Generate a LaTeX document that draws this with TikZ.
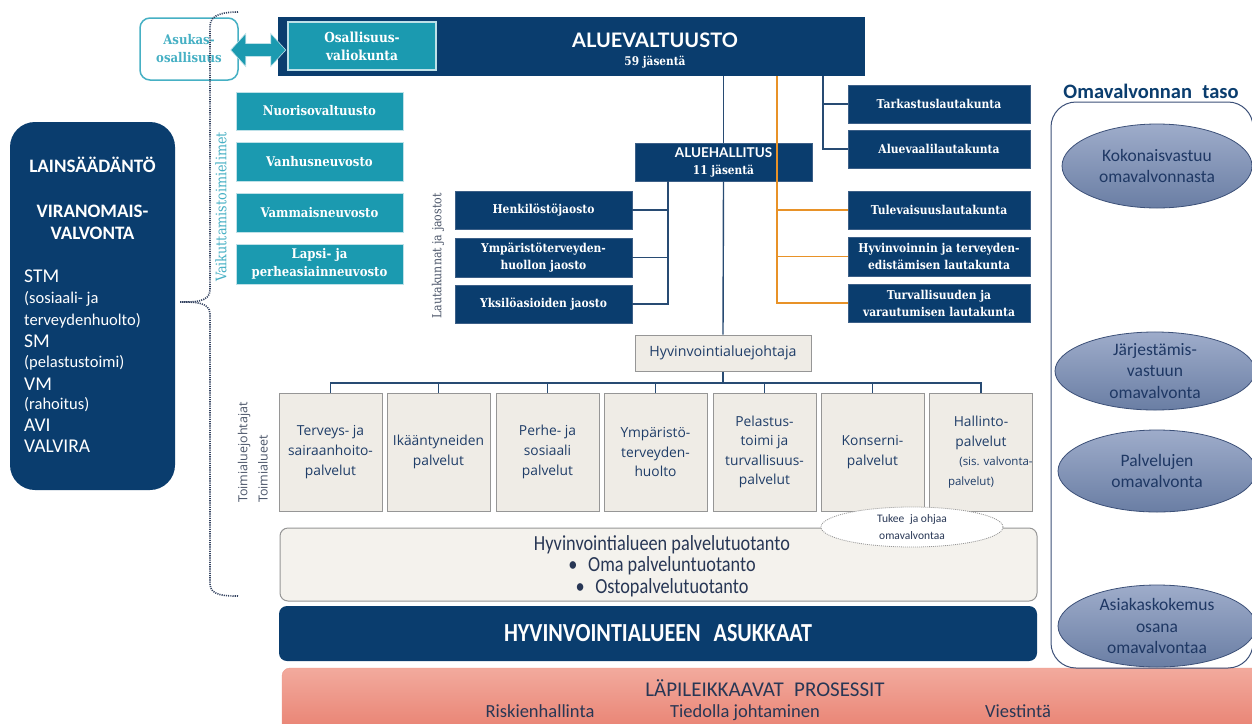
\documentclass[tikz,border=0pt]{standalone}
\usepackage{fontspec}
\setmainfont{Carlito}
\newfontfamily\slab{DejaVu Serif}[FakeStretch=0.88]
\newfontfamily\gsans{Open Sans}
\newfontfamily\titlef{Lato}
\newfontfamily\cond{Carlito}[FakeStretch=0.85]
\usetikzlibrary{shapes.geometric,calc}
\definecolor{cnavy}{RGB}{10,61,110}
\definecolor{cnavyb}{RGB}{60,95,135}
\definecolor{cteal}{RGB}{27,154,176}
\definecolor{ctealb}{RGB}{190,225,232}
\definecolor{ctealtxt}{RGB}{70,176,196}
\definecolor{corange}{RGB}{232,146,40}
\definecolor{cline}{RGB}{40,75,115}
\definecolor{cbeige}{RGB}{239,236,230}
\definecolor{cgrey}{RGB}{150,150,150}
\definecolor{ctext}{RGB}{31,61,104}
\definecolor{cptext}{RGB}{40,55,85}
\definecolor{csalt}{RGB}{242,170,157}
\definecolor{csalb}{RGB}{232,126,110}
\definecolor{celt}{RGB}{158,172,202}
\definecolor{celb}{RGB}{106,126,164}
\definecolor{celd}{RGB}{60,80,120}
\definecolor{celtxt}{RGB}{31,56,100}
\definecolor{cdot}{RGB}{50,65,95}
\definecolor{clab}{RGB}{75,85,105}
\begin{document}
\begin{tikzpicture}[x=1pt,y=-1pt,
  darkbox/.style={fill=cnavy, draw=cnavyb, line width=0.6pt, text=white, align=center, inner sep=0pt,
    font=\slab\bfseries\fontsize{12.2}{17}\selectfont},
  tealbox/.style={fill=cteal, draw=ctealb, line width=0.8pt, text=white, align=center, inner sep=0pt,
    minimum width=167, font=\slab\bfseries\fontsize{13.3}{18}\selectfont},
  svcbox/.style={fill=cbeige, draw=cgrey, line width=1pt, text=ctext, align=center, inner sep=0pt,
    minimum width=103, minimum height=118, font=\gsans\fontsize{13.8}{19.6}\selectfont},
  conn/.style={draw=cline, line width=1.4pt},
  oconn/.style={draw=corange, line width=1.4pt},
  dotline/.style={draw=cdot, line width=1.6pt, dash pattern=on 1.1pt off 1.1pt},
  oval/.style={ellipse, top color=celt, bottom color=celb, draw=celd, line width=0.8pt, inner sep=0pt,
    text=celtxt, align=center, font=\fontsize{17.5}{21.5}\selectfont},
  vlab/.style={rotate=90, inner sep=0pt},
  lawbig/.style={text=white, inner sep=0, anchor=base west, font=\fontsize{19.5}{22}\selectfont},
  lawsmall/.style={text=white, inner sep=0, anchor=base west, font=\fontsize{16.5}{20}\selectfont},
  proc/.style={text=cptext, font=\fontsize{18.5}{20}\selectfont, inner sep=0, anchor=base}
]
\useasboundingbox (0,0) rectangle (1252,723);
\fill[white] (0,0) rectangle (1252,723);

% left legislation box
\node[fill=cnavy, rounded corners=25pt, minimum width=165, minimum height=368, inner sep=0] (law) at (92.5,306) {};
\node[text=white, font=\bfseries\fontsize{19}{22}\selectfont, inner sep=0] (lawa) at (92.5,165) {LAINSÄÄDÄNTÖ};
\node[text=white, font=\bfseries\fontsize{19}{22}\selectfont, align=center, inner sep=0] (lawb) at (92.5,222) {VIRANOMAIS-\\VALVONTA};
\node[lawbig] (l1) at (24,282) {STM};
\node[lawsmall] (l2) at (24,303) {(sosiaali- ja};
\node[lawsmall] (l3) at (24,325) {terveydenhuolto)};
\node[lawbig] (l4) at (24,347) {SM};
\node[lawsmall] (l5) at (24,367) {(pelastustoimi)};
\node[lawbig] (l6) at (24,390) {VM};
\node[lawsmall] (l7) at (24,409) {(rahoitus)};
\node[lawbig] (l8) at (24,431) {AVI};
\node[lawbig] (l9) at (24,452) {VALVIRA};

% top council
\node[fill=cnavy, minimum width=587, minimum height=59, inner sep=0] (valt) at (571.5,46.5) {};
\node[text=white, font=\titlef\bfseries\fontsize{20}{24}\selectfont, inner sep=0] (valtt) at (655,40) {ALUEVALTUUSTO};
\node[text=white, font=\slab\bfseries\fontsize{12}{14}\selectfont, inner sep=0] (valts) at (655,62) {59 jäsentä};
\node[fill=cteal, draw=ctealb, line width=1.2pt, minimum width=148, minimum height=48, inner sep=0, text=white, align=center,
  font=\slab\bfseries\fontsize{13.8}{18}\selectfont] (osall) at (362,46) {Osallisuus-\\valiokunta};
\node[fill=white, draw=ctealtxt, line width=1.5pt, rounded corners=10pt, minimum width=98, minimum height=62, inner sep=0,
  text=ctealtxt, align=center, font=\slab\bfseries\fontsize{13.3}{18}\selectfont] (asukas) at (189,49) {Asukas-\\osallisuus};
% double arrow between Asukas-osallisuus and Osallisuusvaliokunta
\coordinate (ac) at ($(asukas.east)+(19.5,1)$);
\filldraw[fill=cteal, draw=ctealb, line width=0.6pt]
  ($(ac)+(-27.5,0)$) -- ($(ac)+(-12.5,-16.5)$) -- ($(ac)+(-12.5,-6.5)$) -- ($(ac)+(12.5,-6.5)$) -- ($(ac)+(12.5,-16.5)$)
  -- ($(ac)+(27.5,0)$) -- ($(ac)+(12.5,16.5)$) -- ($(ac)+(12.5,6.5)$) -- ($(ac)+(-12.5,6.5)$) -- ($(ac)+(-12.5,16.5)$) -- cycle;

% dotted brace
\draw[dotline] (238,12) to[out=180,in=90] (210,26) -- (210,290) to[out=-90,in=0] (180,302);
\draw[dotline] (180,302) to[out=0,in=90] (210,314) -- (210,584) to[out=-90,in=180] (238,596);

% influence bodies
\node[vlab, text=ctealtxt, font=\slab\fontsize{14.5}{16}\selectfont] (vaik) at (221,207) {Vaikuttamistoimielimet};
\node[tealbox, minimum height=38] (nuor) at (319.5,111) {Nuorisovaltuusto};
\node[tealbox, minimum height=39] (vanh) at (319.5,161.5) {Vanhusneuvosto};
\node[tealbox, minimum height=39] (vamm) at (319.5,212.5) {Vammaisneuvosto};
\node[tealbox, minimum height=40] (laps) at (319.5,264) {Lapsi- ja\\perheasiainneuvosto};

% committees
\node[vlab, text=clab, font=\slab\fontsize{12.5}{14}\selectfont] (lauta) at (438,256) {Lautakunnat ja jaostot};
\node[darkbox, minimum width=177, minimum height=38] (henk) at (543.5,210) {Henkilöstöjaosto};
\node[darkbox, minimum width=177, minimum height=39] (ymp) at (543.5,257.5) {Ympäristöterveyden-\\huollon jaosto};
\node[darkbox, minimum width=177, minimum height=38] (yks) at (543.5,304) {Yksilöasioiden jaosto};
\node[darkbox, minimum width=177, minimum height=38] (hall) at (723.5,162)
  {{\titlef\bfseries\fontsize{13.5}{17}\selectfont ALUEHALLITUS}\\{\fontsize{12}{14}\selectfont 11 jäsentä}};
\node[darkbox, minimum width=182, minimum height=38] (tark) at (939,104) {Tarkastuslautakunta};
\node[darkbox, minimum width=182, minimum height=38] (vaali) at (939,149) {Aluevaalilautakunta};
\node[darkbox, minimum width=182, minimum height=38] (tul) at (939,210) {Tulevaisuuslautakunta};
\node[darkbox, minimum width=182, minimum height=39] (hyte) at (939,256.5) {Hyvinvoinnin ja terveyden-\\edistämisen lautakunta};
\node[darkbox, minimum width=182, minimum height=38] (turv) at (939,303) {Turvallisuuden ja\\varautumisen lautakunta};

\node[fill=cbeige, draw=cgrey, line width=1pt, minimum width=176, minimum height=36, inner sep=0, text=ctext,
  font=\gsans\fontsize{14.2}{16}\selectfont] (johtaja) at (723,353) {Hyvinvointialuejohtaja};

% service areas
\node[vlab, text=clab, font=\gsans\fontsize{12.5}{14}\selectfont, anchor=west] (tjoht) at (244,503) {Toimialuejohtajat};
\node[vlab, text=clab, font=\gsans\fontsize{12.5}{14}\selectfont, anchor=west] (tal) at (263,503) {Toimialueet};
\node[svcbox] (b1) at (330.5,452) {Terveys- ja\\sairaanhoito-\\palvelut};
\node[svcbox] (b2) at (438.5,452) {Ikääntyneiden\\palvelut};
\node[svcbox] (b3) at (547.5,452) {Perhe- ja\\sosiaali\\palvelut};
\node[svcbox] (b4) at (655.5,452) {Ympäristö-\\terveyden-\\huolto};
\node[svcbox] (b5) at (764.5,452) {Pelastus-\\toimi ja\\turvallisuus-\\palvelut};
\node[svcbox] (b6) at (872.5,452) {Konserni-\\palvelut};
\node[svcbox] (b7) at (981,452) {Hallinto-\\palvelut\\{\fontsize{11.5}{19.6}\selectfont\hspace*{30pt}(sis. valvonta-}\\{\fontsize{11.5}{19.6}\selectfont palvelut)\hspace*{20pt}\null}};

% connectors
\coordinate (ox) at (777,0);
\coordinate (rx) at (823,0);
\coordinate (lx) at (668,0);
\coordinate (busy) at (0,383);
\draw[oconn] (ox |- valt.south) |- (turv.west);
\draw[oconn] (ox |- tul.west) -- (tul.west);
\draw[oconn] (ox |- hyte.west) -- (hyte.west);
\draw[conn] (rx |- valt.south) |- (vaali.west);
\draw[conn] (rx |- tark.west) -- (tark.west);
\draw[conn] (hall.north |- valt.south) -- (hall.north);
\draw[conn] (hall.south) -- (johtaja.north);
\draw[conn] (lx |- hall.south) |- (yks.east);
\draw[conn] (lx |- henk.east) -- (henk.east);
\draw[conn] (lx |- ymp.east) -- (ymp.east);
\draw[conn] (johtaja.south) -- (johtaja.south |- busy);
\draw[conn] (b1.north) |- (busy -| b7.north) -- (b7.north);
\foreach \i in {2,...,6} {\draw[conn] (b\i.north) -- (b\i.north |- busy);}

% production
\node[fill=cbeige!70!white, draw=cgrey, line width=1pt, rounded corners=8pt, minimum width=757, minimum height=73, inner sep=0] (palv) at (658.5,564.5) {};
\node[text=cptext, font=\cond\fontsize{21.5}{21.5}\selectfont, align=center, inner sep=0] (palvt) at (662,566)
  {Hyvinvointialueen palvelutuotanto\\\textbullet\enspace Oma palveluntuotanto\\\textbullet\enspace Ostopalvelutuotanto};
\node[ellipse, fill=white, draw=cgrey, dash pattern=on 1pt off 1pt, line width=0.8pt, minimum width=182, minimum height=40,
  inner sep=0, text=cptext, align=center, font=\fontsize{11.5}{17}\selectfont] (tukee) at (912,527) {Tukee\enspace ja ohjaa\\omavalvontaa};

\node[fill=cnavy, rounded corners=8pt, minimum width=758, minimum height=55, inner sep=0, text=white,
  font=\cond\bfseries\fontsize{26}{28}\selectfont] (asuk) at (658,633.5) {HYVINVOINTIALUEEN\enspace ASUKKAAT};

\node[top color=csalt, bottom color=csalb, draw=csalb!80!white, rounded corners=8pt, minimum width=990, minimum height=70, inner sep=0] (lapi) at (777,703) {};
\node[text=cptext, font=\fontsize{21}{22}\selectfont, inner sep=0] (lapit) at (765,688) {LÄPILEIKKAAVAT\enspace PROSESSIT};
\node[proc] (risk) at (540,717) {Riskienhallinta};
\node[proc] (tied) at (745,717) {Tiedolla johtaminen};
\node[proc, anchor=base west] (vies) at (985,717) {Viestintä};

% self-supervision level
\node[text=cnavy, font=\bfseries\fontsize{20.5}{24}\selectfont, inner sep=0] (omat) at (1151,91) {Omavalvonnan\enspace taso};
\node[draw=celd, line width=1pt, rounded corners=25pt, minimum width=202, minimum height=566, inner sep=0] (omab) at (1152,385) {};
\node[oval, minimum width=190, minimum height=84] (e1) at (1157,166) {Kokonaisvastuu\\omavalvonnasta};
\node[oval, minimum width=200, minimum height=76] (e2) at (1155,371) {Järjestämis-\\vastuun\\omavalvonta};
\node[oval, minimum width=198, minimum height=82] (e3) at (1157,471) {Palvelujen\\omavalvonta};
\node[oval, minimum width=198, minimum height=82] (e4) at (1157,626) {Asiakaskokemus\\osana\\omavalvontaa};
\end{tikzpicture}
\end{document}
